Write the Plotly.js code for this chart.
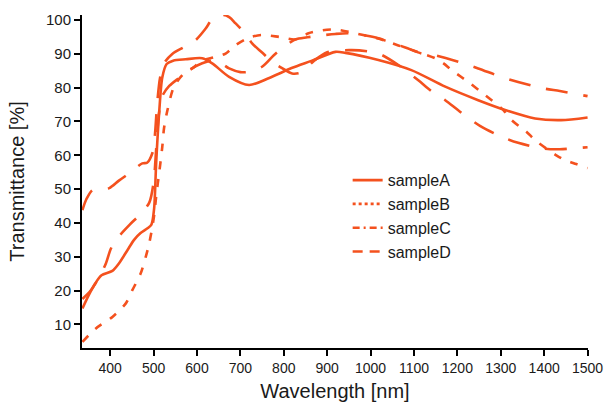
<!DOCTYPE html>
<html><head><meta charset="utf-8">
<script src="https://cdn.plot.ly/plotly-3.0.1.min.js"></script>
<style>html,body{margin:0;padding:0;background:#fff}#chart{width:604px;height:404px}</style>
</head><body><div id="chart"></div>
<script>
const seriesNames = ['sampleA', 'sampleB', 'sampleC', 'sampleD'];

const wlA = [336, 350, 365, 380, 405, 420, 440, 455, 470, 486, 495, 501, 506, 513, 520, 530, 545, 574, 612, 635, 674, 720, 765, 818, 865, 919, 942, 1018, 1094, 1172, 1248, 1310, 1379, 1439, 1500];
const tA  = [14.7, 18.5, 22, 24.5, 25.8, 28, 32, 35, 37, 38.4, 39.5, 44, 58, 73, 83, 87, 88, 88.4, 88.7, 87.2, 83.2, 80.8, 82.8, 85.8, 88, 90.6, 90.3, 88.2, 85.2, 80.3, 76.3, 73.4, 70.9, 70.4, 71.2];

const wlB = [336, 367, 405, 436, 451, 470, 482, 490, 501, 506, 513, 520, 524, 532, 547, 570, 589, 612, 640, 666, 689, 720, 750, 790, 827, 857, 890, 919, 961, 1015, 1064, 1110, 1149, 1168, 1187, 1229, 1264, 1306, 1321, 1344, 1359, 1379, 1405, 1428, 1448, 1474, 1500];
const tB  = [4.8, 8.8, 12.2, 16.2, 20.1, 25, 30, 34, 42, 48, 55, 62.5, 68, 73.4, 80.3, 84.2, 85.7, 88, 89, 90.1, 92.6, 94.8, 95.6, 95, 94.3, 96.1, 97, 97.2, 96.2, 94.6, 92.5, 90.5, 88.7, 87.2, 85.2, 81.3, 77.8, 73.4, 70.9, 68.4, 67, 64.5, 62, 60, 58.6, 57.4, 56.2];

const wlC = [336, 345, 359, 380, 398, 420, 444, 474, 485, 497, 503, 508, 515, 524, 543, 570, 597, 620, 635, 660, 675, 689, 708, 727, 750, 773, 796, 819, 840, 870, 900, 957, 1018, 1064, 1110, 1140, 1172, 1206, 1252, 1302, 1340, 1398, 1436, 1500];
const tC  = [43.8, 47, 49.7, 50, 50.3, 52.5, 54.7, 57.6, 57.8, 60.6, 66, 75, 83, 87.2, 90, 92, 94.1, 97.5, 100.2, 101.5, 100.8, 99, 96.5, 93.1, 90.4, 87.7, 85.8, 84.2, 84.5, 88, 90.5, 91.1, 90.1, 86.7, 82.2, 79, 76.3, 72.9, 68.7, 65.5, 63.7, 62, 61.8, 62.4];

const wlD = [336, 355, 375, 390, 402, 420, 445, 471, 490, 500, 506, 512, 520, 536, 560, 582, 612, 643, 674, 700, 720, 750, 777, 800, 827, 854, 890, 919, 950, 980, 1018, 1041, 1080, 1118, 1152, 1202, 1248, 1301, 1340, 1398, 1436, 1500];
const tD  = [17.5, 20, 24, 28, 32.5, 36, 39.5, 42.8, 46, 52, 62, 72, 77.5, 80.5, 83, 85.2, 87.2, 88.2, 85.7, 84.6, 84.7, 86.2, 89.6, 92, 94.3, 94.9, 95.5, 95.9, 96.1, 95.6, 94.6, 93.6, 91.9, 90.1, 89.5, 87.7, 85.7, 83.2, 81.7, 79.8, 79, 77.5];

const xTicks = [400, 500, 600, 700, 800, 900, 1000, 1100, 1200, 1300, 1400, 1500];
const yTicks = [10, 20, 30, 40, 50, 60, 70, 80, 90, 100];

const color = '#f4511e';
const font = 'Liberation Sans, Arial, Helvetica, sans-serif';

const xs = [wlA, wlB, wlC, wlD];
const ys = [tA, tB, tC, tD];
const plotDash = ['solid', '8px,10px', '22px,16px', '22px,16px'];
const legendDash = ['solid', '3px,3px', '7px,4px,2px,4px', '10px,7px'];

const traces = [];
for (let i = 0; i < 4; i++) {
  traces.push({
    x: xs[i], y: ys[i], type: 'scatter', mode: 'lines', name: seriesNames[i],
    showlegend: false, legendgroup: seriesNames[i], hoverinfo: 'skip', cliponaxis: true,
    line: {color: color, width: 2.6, dash: plotDash[i], shape: 'spline', smoothing: 0.8}
  });
}
for (let i = 0; i < 4; i++) {
  traces.push({
    x: [null], y: [null], type: 'scatter', mode: 'lines', name: seriesNames[i],
    showlegend: true, legendgroup: seriesNames[i],
    line: {color: color, width: 2.6, dash: legendDash[i]}
  });
}

const layout = {
  width: 604, height: 404,
  margin: {l: 82, r: 16, t: 15, b: 56, pad: 0},
  paper_bgcolor: '#fff', plot_bgcolor: '#fff',
  font: {family: font, color: '#1a1a1a', size: 14},
  showlegend: true,
  legend: {x: 0.525, xanchor: 'left', y: 0.555, yanchor: 'top', bgcolor: 'rgba(0,0,0,0)',
           font: {size: 16, family: font, color: '#1a1a1a'}, tracegroupgap: 0, traceorder: 'normal'},
  xaxis: {
    range: [335, 1501], tickvals: xTicks, ticktext: xTicks.map(String),
    showgrid: false, zeroline: false, showline: true, linecolor: '#000', linewidth: 2,
    ticks: 'outside', ticklen: 6, tickwidth: 2, tickcolor: '#000', ticklabeloverflow: 'allow',
    tickfont: {size: 14, family: font, color: '#1a1a1a'},
    title: {text: 'Wavelength [nm]', font: {size: 20, family: font, color: '#1a1a1a'}, standoff: 9}
  },
  yaxis: {
    range: [3, 101.5], tickvals: yTicks, ticktext: yTicks.map(String),
    showgrid: false, zeroline: false, showline: true, linecolor: '#000', linewidth: 2,
    ticks: 'outside', ticklen: 6, tickwidth: 2, tickcolor: '#000',
    tickfont: {size: 15, family: font, color: '#1a1a1a'},
    title: {text: 'Transmittance [%]', font: {size: 20, family: font, color: '#1a1a1a'}, standoff: 16}
  }
};

Plotly.newPlot('chart', traces, layout, {displayModeBar: false, staticPlot: true});
</script>
</body></html>
